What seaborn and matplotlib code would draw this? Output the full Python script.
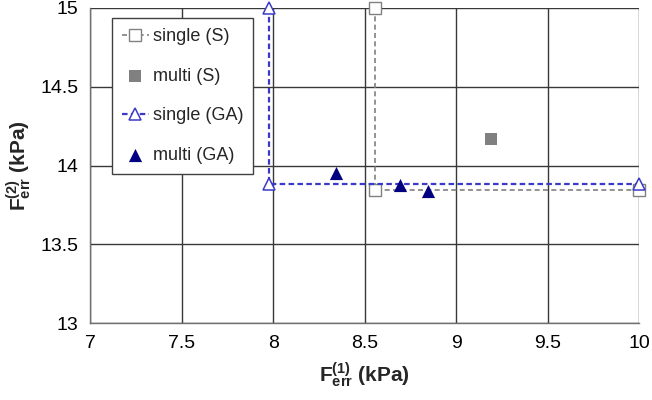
import matplotlib
matplotlib.use("Agg")
import matplotlib.pyplot as plt
import seaborn as sns

# data
single_s_x = [8.557, 8.557, 10.0]
single_s_y = [15.0, 13.845, 13.845]
multi_s_x = [9.188]
multi_s_y = [14.166]
single_ga_x = [7.98, 7.98, 10.0]
single_ga_y = [15.0, 13.88, 13.88]
multi_ga_x = [8.344, 8.691, 8.845]
multi_ga_y = [13.95, 13.877, 13.838]

xticks = [7, 7.5, 8, 8.5, 9, 9.5, 10]
xtick_labels = ['7', '7.5', '8', '8.5', '9', '9.5', '10']
yticks = [13, 13.5, 14, 14.5, 15]
ytick_labels = ['13', '13.5', '14', '14.5', '15']

sns.set_theme(style="white")
plt.rcParams['font.family'] = ['Liberation Sans', 'DejaVu Sans']
plt.rcParams['mathtext.fontset'] = 'custom'
plt.rcParams['mathtext.rm'] = 'Liberation Sans:bold'
plt.rcParams['mathtext.it'] = 'Liberation Sans:bold'
plt.rcParams['mathtext.bf'] = 'Liberation Sans:bold'

fig = plt.figure(figsize=(6.52, 4.0), dpi=100)
ax = fig.add_axes([0.138, 0.1925, 0.8425, 0.7875])

gray = '#808080'
blue = '#3a3ac8'
navy = '#000080'

sns.lineplot(x=single_s_x, y=single_s_y, sort=False, estimator=None, ax=ax, color=gray,
             linestyle=(0, (3, 2)), linewidth=1.2, marker='s', markersize=8,
             markerfacecolor='white', markeredgecolor=gray, markeredgewidth=1.0,
             label='single (S)', clip_on=False, zorder=3)
sns.scatterplot(x=multi_s_x, y=multi_s_y, ax=ax, color=gray, marker='s', s=70,
                edgecolor=gray, linewidth=0, label='multi (S)', zorder=4)
sns.lineplot(x=single_ga_x, y=single_ga_y, sort=False, estimator=None, ax=ax, color=blue,
             linestyle=(0, (2.5, 1.5)), linewidth=1.6, marker='^', markersize=9,
             markerfacecolor='white', markeredgecolor=blue, markeredgewidth=1.1,
             label='single (GA)', clip_on=False, zorder=3)
sns.scatterplot(x=multi_ga_x, y=multi_ga_y, ax=ax, color=navy, marker='^', s=90,
                edgecolor=navy, linewidth=0, label='multi (GA)', zorder=4)

ax.set_xlim(7, 10)
ax.set_ylim(13, 15)
ax.set_xticks(xticks)
ax.set_xticklabels(xtick_labels)
ax.set_yticks(yticks)
ax.set_yticklabels(ytick_labels)
ax.grid(True, color='#383838', linewidth=1.0)
ax.set_axisbelow(True)
for side in ['top', 'right']:
    ax.spines[side].set_visible(False)
for side in ['left', 'bottom']:
    ax.spines[side].set_color('#707070')
    ax.spines[side].set_linewidth(1.0)
ax.tick_params(axis='both', labelsize=14, colors='#707070', labelcolor='black',
               direction='out', length=5, width=1)
ax.tick_params(axis='x', length=0, pad=9)

ax.set_xlabel(r'$\mathbf{F_{err}^{(1)}}$ (kPa)', fontsize=15, fontweight='bold', labelpad=6)
ax.set_ylabel(r'$\mathbf{F_{err}^{(2)}}$ (kPa)', fontsize=15, fontweight='bold', labelpad=4)

leg = ax.legend(loc='upper left', bbox_to_anchor=(0.04, 0.968), fontsize=13,
                frameon=True, fancybox=False, edgecolor='#404040', framealpha=1,
                handlelength=1.5, handletextpad=0.2, labelspacing=1.25,
                borderpad=0.55, borderaxespad=0)
leg.get_frame().set_linewidth(1.0)

fig.savefig('out.png', dpi=100)
